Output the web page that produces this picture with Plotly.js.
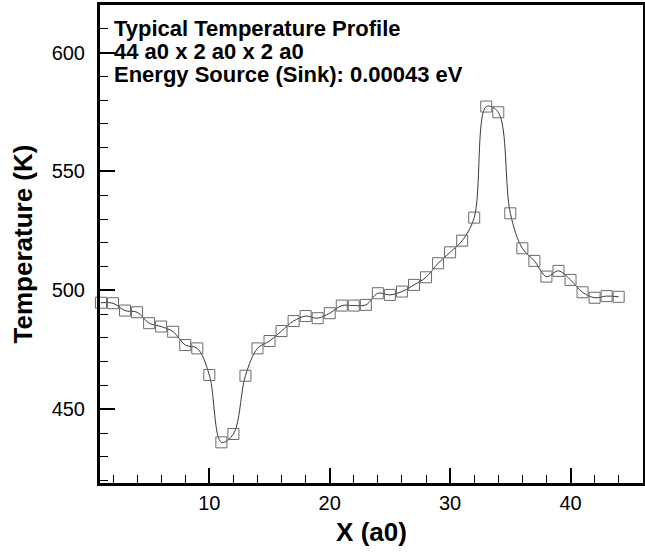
<!DOCTYPE html>
<html>
<head>
<meta charset="utf-8">
<script src="https://cdn.plot.ly/plotly-3.0.1.min.js"></script>
<style>html,body{margin:0;padding:0;background:#fff;}#chart{width:645px;height:552px;}</style>
</head>
<body>
<div id="chart"></div>
<script>
const xPositions = [1,2,3,4,5,6,7,8,9,10,11,12,13,14,15,16,17,18,19,20,21,22,23,24,25,26,27,28,29,30,31,32,33,34,35,36,37,38,39,40,41,42,43,44];
const temperatures = [494.8,494.6,491.5,490.8,486.2,484.8,482.6,477.0,475.6,464.4,436.1,439.6,464.1,475.6,478.7,482.9,487.1,489.2,488.3,490.4,493.6,493.6,493.9,498.8,498.1,499.5,502.3,505.5,511.4,516.0,520.9,530.6,577.3,574.9,532.4,517.7,512.4,505.8,508.2,504.4,499.2,496.9,497.6,497.3];
const infoLines = ["Typical Temperature Profile", "44 a0 x 2 a0 x 2 a0", "Energy Source (Sink): 0.00043 eV"];
const xTitle = "X (a0)";
const yTitle = "Temperature (K)";

const FONT = '"Liberation Sans", Arial, Helvetica, sans-serif';
const infoY = [0.9508, 0.9021, 0.8552];

const trace = {
  x: xPositions,
  y: temperatures,
  type: 'scatter',
  mode: 'lines+markers',
  cliponaxis: false,
  line: {shape: 'spline', smoothing: 1, color: '#3a3a3a', width: 1},
  marker: {symbol: 'square-open', size: 11, color: '#6a6a6a', line: {width: 1, color: '#6a6a6a'}},
  hoverinfo: 'skip'
};

const axisCommon = {
  showgrid: false,
  zeroline: false,
  showline: true,
  linecolor: '#000',
  linewidth: 3,
  mirror: true,
  ticks: 'inside',
  ticklen: 15,
  tickwidth: 2,
  tickcolor: '#000',
  tickfont: {family: FONT, size: 20, color: '#000'},
  automargin: false
};

const layout = {
  width: 645,
  height: 552,
  margin: {l: 100, r: 2, t: 5, b: 69},
  paper_bgcolor: '#fff',
  plot_bgcolor: '#fff',
  showlegend: false,
  xaxis: Object.assign({}, axisCommon, {
    range: [0.92, 46.02],
    tickmode: 'linear', tick0: 0, dtick: 10,
    minor: {dtick: 2, tick0: 0, ticks: 'inside', ticklen: 8, tickwidth: 1, tickcolor: '#000'},
    ticklabelstandoff: 0,
    title: {text: '<b>' + xTitle + '</b>', font: {family: FONT, size: 26, color: '#000'}, standoff: 10}
  }),
  yaxis: Object.assign({}, axisCommon, {
    range: [419, 620],
    tickmode: 'linear', tick0: 0, dtick: 50,
    minor: {dtick: 10, tick0: 0, ticks: 'inside', ticklen: 8, tickwidth: 1, tickcolor: '#000'},
    ticklabelstandoff: 8,
    title: {text: '<b>' + yTitle + '</b>', font: {family: FONT, size: 26, color: '#000'}, standoff: 12}
  }),
  annotations: infoLines.map((t, i) => ({
    text: '<b>' + t + '</b>',
    xref: 'paper', yref: 'paper',
    x: 0.0227, y: infoY[i],
    xanchor: 'left', yanchor: 'middle',
    showarrow: false,
    font: {family: FONT, size: 22, color: '#000'}
  }))
};

Plotly.newPlot('chart', [trace], layout, {displayModeBar: false, staticPlot: true});
</script>
</body>
</html>
